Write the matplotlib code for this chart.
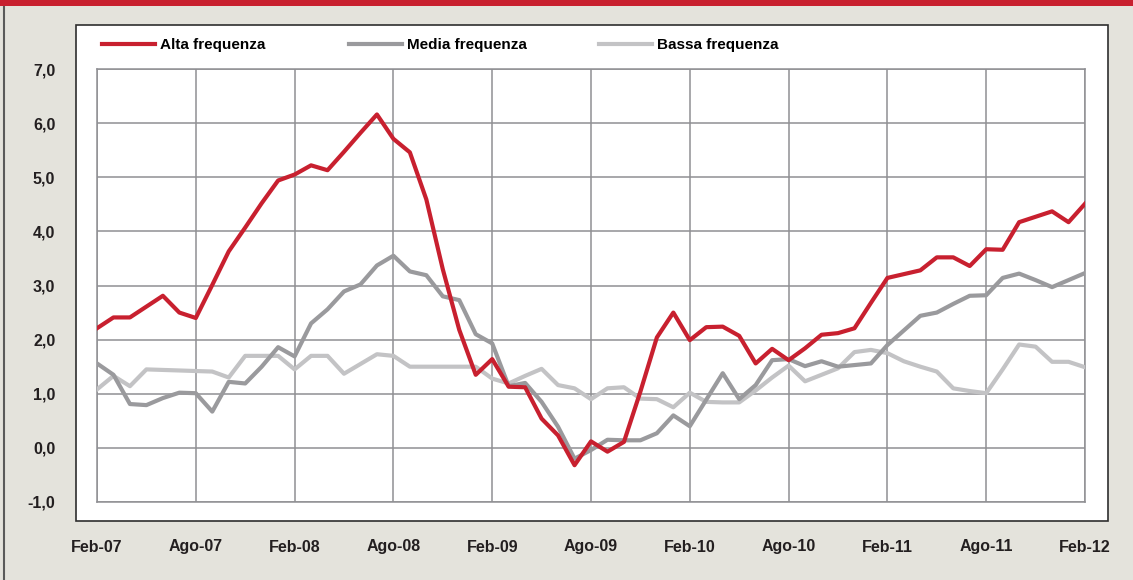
import numpy as np
import matplotlib.pyplot as plt
from matplotlib.patches import Rectangle
from matplotlib.lines import Line2D

# monthly series, Feb-07 .. Feb-12 (61 points)
alta = [2.21, 2.41, 2.41, 2.61, 2.81, 2.50, 2.40, 3.01, 3.63, 4.07,
        4.52, 4.94, 5.05, 5.22, 5.13, 5.47, 5.82, 6.16, 5.71, 5.46,
        4.59, 3.30, 2.18, 1.35, 1.64, 1.13, 1.12, 0.54, 0.23, -0.32,
        0.12, -0.07, 0.11, 1.04, 2.04, 2.50, 1.99, 2.23, 2.24, 2.07,
        1.56, 1.83, 1.62, 1.84, 2.09, 2.12, 2.21, 2.68, 3.14, 3.21,
        3.28, 3.52, 3.52, 3.36, 3.67, 3.66, 4.17, 4.27, 4.37, 4.17,
        4.51]
media = [1.56, 1.35, 0.81, 0.79, 0.92, 1.02, 1.01, 0.67, 1.22, 1.19,
         1.50, 1.86, 1.69, 2.30, 2.56, 2.89, 3.02, 3.37, 3.55, 3.26,
         3.19, 2.80, 2.73, 2.10, 1.93, 1.14, 1.20, 0.85, 0.39, -0.20,
         -0.04, 0.15, 0.14, 0.14, 0.27, 0.60, 0.40, 0.89, 1.38, 0.90,
         1.16, 1.62, 1.64, 1.51, 1.60, 1.50, 1.53, 1.56, 1.90, 2.17,
         2.44, 2.50, 2.66, 2.81, 2.82, 3.14, 3.22, 3.10, 2.97, 3.10,
         3.23]
bassa = [1.08, 1.33, 1.14, 1.45, 1.44, 1.43, 1.42, 1.41, 1.30, 1.70,
         1.70, 1.70, 1.45, 1.70, 1.70, 1.37, 1.55, 1.73, 1.70, 1.50,
         1.50, 1.50, 1.50, 1.50, 1.28, 1.19, 1.33, 1.46, 1.16, 1.10,
         0.90, 1.10, 1.12, 0.91, 0.90, 0.75, 1.02, 0.85, 0.84, 0.84,
         1.06, 1.30, 1.52, 1.23, 1.35, 1.47, 1.77, 1.81, 1.75, 1.60,
         1.50, 1.41, 1.10, 1.05, 1.01, 1.45, 1.91, 1.87, 1.59, 1.59,
         1.49]
months = np.arange(len(alta))
tick_labels = ['Feb-07', 'Ago-07', 'Feb-08', 'Ago-08', 'Feb-09', 'Ago-09',
               'Feb-10', 'Ago-10', 'Feb-11', 'Ago-11', 'Feb-12']
y_ticks = np.arange(-1, 8)

plt.rcParams['font.family'] = ['Liberation Sans', 'DejaVu Sans']
plt.rcParams['font.weight'] = 'bold'

bg = '#e4e3dc'
grid = '#8f8f93'
red = '#c8202f'
mid = '#9a9a9d'
light = '#c3c3c5'

fig = plt.figure(figsize=(11.33, 5.8), dpi=100, facecolor=bg)

# red band on top, left rule, white panel
fig.patches.append(Rectangle((0, 1 - 6 / 580), 1, 6 / 580, transform=fig.transFigure,
                             facecolor=red, edgecolor='none', zorder=0))
fig.lines.append(Line2D([3.5 / 1133, 3.5 / 1133], [0, 1 - 6 / 580], transform=fig.transFigure,
                        color='#5a5a5a', lw=1.5, zorder=0))
fig.patches.append(Rectangle((76 / 1133, 59 / 580), 1032 / 1133, 496 / 580,
                             transform=fig.transFigure, facecolor='white',
                             edgecolor='#2e2e2e', lw=1.2, zorder=0))

ax = fig.add_axes([97 / 1133, 78 / 580, 988 / 1133, 433 / 580], zorder=2)
ax.set_facecolor('white')

ax.plot(months, bassa, color=light, lw=3, label='Bassa frequenza', zorder=3)
ax.plot(months, media, color=mid, lw=3, label='Media frequenza', zorder=4)
ax.plot(months, alta, color=red, lw=3, label='Alta frequenza', zorder=5)

ax.set_xlim(0, 60)
ax.set_ylim(-1, 7)
ax.set_xticks(np.arange(0, 61, 6))
ax.set_xticklabels(tick_labels)
ax.set_yticks(y_ticks)
ax.set_yticklabels([f'{v:.1f}'.replace('.', ',') for v in y_ticks])
ax.grid(True, color=grid, lw=1.1, zorder=0)
ax.set_axisbelow(True)
for s in ax.spines.values():
    s.set_color(grid)
    s.set_linewidth(1.1)
ax.tick_params(length=0, labelsize=11.5, colors='#231f20')
ax.tick_params(axis='y', pad=30)
ax.tick_params(axis='x', pad=27)

# legend entries sit at fixed spots along the top of the panel
handles, labels = ax.get_legend_handles_labels()
leg_x = [102, 349, 599]
for i, px in zip([2, 1, 0], leg_x):
    leg = fig.legend([handles[i]], [labels[i]], loc='center left',
                     bbox_to_anchor=(px / 1133, 1 - 45 / 580), frameon=False,
                     handlelength=3.45, handletextpad=0.35, fontsize=11,
                     borderaxespad=0, borderpad=0)
    leg.set_zorder(3)

fig.savefig('out.png', dpi=100, facecolor=bg)
